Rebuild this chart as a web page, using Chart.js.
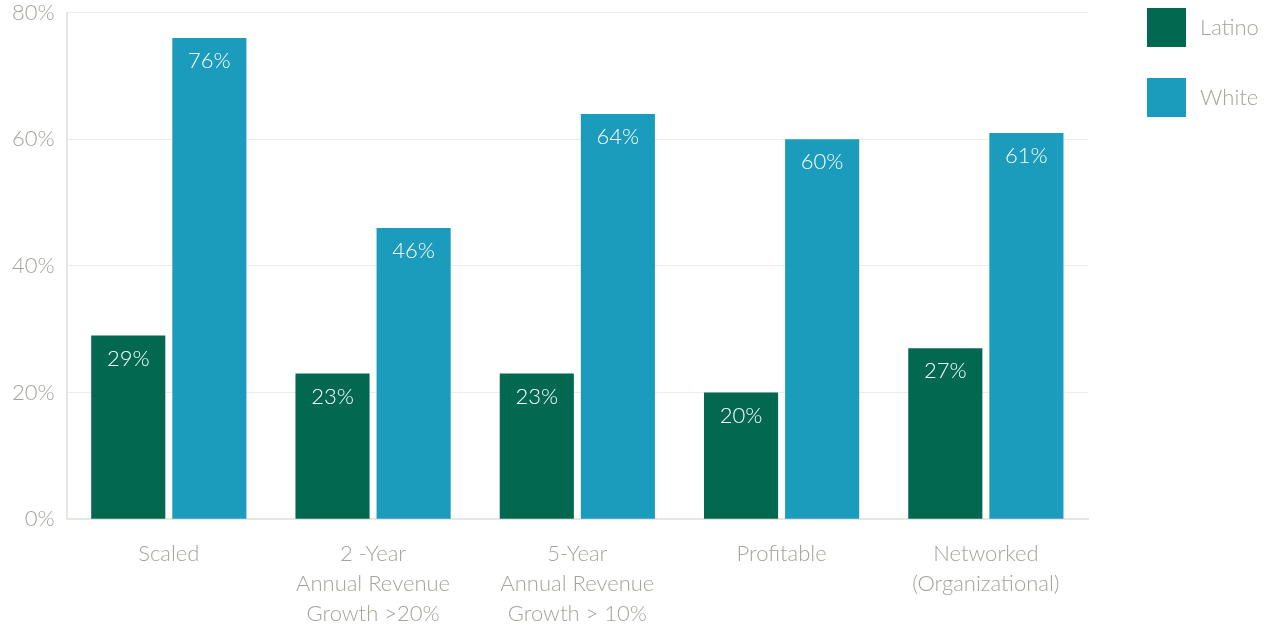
<!DOCTYPE html>
<html><head><meta charset="utf-8">
<script src="https://cdn.jsdelivr.net/npm/chart.js@4"></script>
<style>html,body{margin:0;padding:0;background:#fff;}#wrap{width:1275px;height:625px;position:relative;}</style>
</head><body><div id="wrap"><canvas id="c"></canvas></div>
<script>
const categories = [["Scaled"], ["2 -Year", "Annual Revenue", "Growth >20%"], ["5-Year", "Annual Revenue", "Growth > 10%"], ["Profitable"], ["Networked", "(Organizational)"]];
const latino = [29, 23, 23, 20, 27];
const white = [76, 46, 64, 60, 61];
const seriesNames = ["Latino", "White"];
const seriesColors = ["#026950", "#1c9cbd"];
const yTicks = [0, 20, 40, 60, 80];

const FONT = "Lato, 'Open Sans', sans-serif";
const GRAY = "#a4a49c";

const valueLabels = {
  id: 'valueLabels',
  afterDatasetsDraw(chart) {
    const ctx = chart.ctx;
    ctx.save();
    ctx.font = "300 22px " + FONT;
    ctx.fillStyle = "#ffffff";
    ctx.textAlign = "center";
    ctx.textBaseline = "middle";
    chart.data.datasets.forEach((ds, i) => {
      chart.getDatasetMeta(i).data.forEach((bar, j) => {
        ctx.fillText(ds.data[j] + "%", bar.x, bar.y + 23);
      });
    });
    ctx.restore();
  }
};
const sideLegend = {
  id: 'sideLegend',
  afterDraw(chart) {
    const ctx = chart.ctx;
    ctx.save();
    ctx.font = "300 22px " + FONT;
    ctx.textBaseline = "middle";
    ctx.textAlign = "left";
    chart.data.datasets.forEach((ds, i) => {
      const y = 8 + i * 70;
      ctx.fillStyle = ds.backgroundColor;
      ctx.fillRect(1147, y, 39, 39);
      ctx.fillStyle = GRAY;
      ctx.fillText(ds.label, 1200, y + 20);
    });
    ctx.restore();
  }
};

new Chart(document.getElementById('c'), {
  type: 'bar',
  data: {
    labels: categories,
    datasets: [
      {label: seriesNames[0], data: latino, backgroundColor: seriesColors[0]},
      {label: seriesNames[1], data: white, backgroundColor: seriesColors[1]}
    ]
  },
  options: {
    responsive: true,
    maintainAspectRatio: false,
    animation: false,
    layout: {padding: {top: 0, right: 187, left: 0, bottom: -24}},
    plugins: {legend: {display: false}, tooltip: {enabled: false}},
    datasets: {bar: {categoryPercentage: 0.794, barPercentage: 0.914}},
    scales: {
      x: {
        grid: {display: false, drawTicks: false},
        border: {color: "#e6e6e2", width: 2},
        ticks: {color: GRAY, font: {family: FONT, size: 22, weight: 300, lineHeight: 1.36}, padding: 20, maxRotation: 0, autoSkip: false}
      },
      y: {
        min: 0, max: 80,
        afterBuildTicks(axis) { axis.ticks = yTicks.map(v => ({value: v})); },
        grid: {color: "#ececec", lineWidth: 1, drawTicks: false},
        border: {color: "#e6e6e2", width: 2},
        ticks: {color: GRAY, font: {family: FONT, size: 22, weight: 300, lineHeight: 0.05}, padding: 12, callback: v => v + "%"}
      }
    }
  },
  plugins: [valueLabels, sideLegend]
});
</script></body></html>
